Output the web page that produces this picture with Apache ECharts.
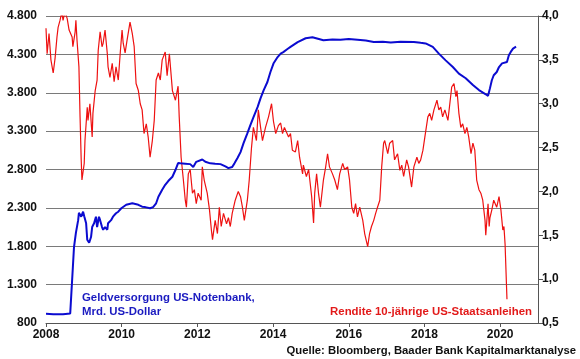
<!DOCTYPE html>
<html>
<head>
<meta charset="utf-8">
<script src="https://cdn.jsdelivr.net/npm/echarts@6/dist/echarts.min.js"></script>
<style>
html,body{margin:0;padding:0;background:#fff;}
#chart{width:580px;height:359px;}
</style>
</head>
<body>
<div id="chart"></div>
<script>
// X-axis tick labels (years)
const yearTicks = [2008, 2010, 2012, 2014, 2016, 2018, 2020];
// Left axis ticks (Mrd. US-Dollar)
const leftTicks = [800, 1300, 1800, 2300, 2800, 3300, 3800, 4300, 4800];
// Right axis ticks (Rendite %)
const rightTicks = [0.5, 1.0, 1.5, 2.0, 2.5, 3.0, 3.5, 4.0];

// Geldversorgung US-Notenbank (Mrd. US-Dollar)
const fedDates = [2008.00,2008.19,2008.45,2008.64,2008.69,2008.71,2008.74,2008.79,2008.85,2008.87,2008.93,2008.98,2009.01,2009.06,2009.09,2009.14,2009.19,2009.22,2009.27,2009.32,2009.35,2009.40,2009.43,2009.48,2009.51,2009.56,2009.62,2009.64,2009.72,2009.77,2009.85,2009.91,2009.99,2010.04,2010.12,2010.17,2010.28,2010.36,2010.44,2010.54,2010.62,2010.75,2010.83,2010.91,2010.97,2011.07,2011.15,2011.23,2011.34,2011.42,2011.49,2011.55,2011.68,2011.81,2011.89,2011.97,2012.02,2012.13,2012.21,2012.34,2012.47,2012.61,2012.74,2012.82,2012.92,2012.98,2013.06,2013.14,2013.22,2013.32,2013.40,2013.48,2013.59,2013.67,2013.75,2013.85,2013.93,2014.01,2014.12,2014.20,2014.27,2014.38,2014.46,2014.65,2014.86,2015.04,2015.33,2015.57,2015.78,2016.00,2016.23,2016.45,2016.66,2016.90,2017.11,2017.37,2017.72,2017.90,2018.03,2018.22,2018.38,2018.56,2018.75,2018.91,2019.09,2019.28,2019.44,2019.62,2019.68,2019.73,2019.78,2019.83,2019.91,2019.97,2020.05,2020.10,2020.18,2020.23,2020.28,2020.34,2020.42];
const fedAssets = [920,915,915,925,930,1530,1790,1975,2140,2235,2185,2250,2190,2100,1885,1845,1920,2050,2100,2185,2050,2185,2140,2050,2015,2050,2015,2100,2140,2185,2230,2250,2295,2315,2340,2350,2360,2350,2340,2315,2310,2295,2310,2360,2445,2535,2600,2650,2706,2793,2884,2880,2875,2870,2833,2900,2923,2930,2900,2880,2875,2870,2840,2818,2833,2880,2949,3027,3143,3270,3378,3480,3612,3730,3830,3940,4070,4180,4265,4310,4330,4370,4397,4460,4510,4524,4483,4495,4492,4500,4490,4480,4462,4465,4455,4465,4462,4450,4443,4397,4310,4222,4135,4049,3989,3900,3835,3780,3760,3857,3963,4028,4070,4135,4183,4160,4200,4288,4332,4375,4400];

// Rendite 10-jährige US-Staatsanleihen (%)
const yieldDates = [2008.00,2008.03,2008.08,2008.13,2008.19,2008.24,2008.29,2008.32,2008.37,2008.42,2008.45,2008.50,2008.56,2008.61,2008.69,2008.71,2008.77,2008.79,2008.82,2008.87,2008.90,2008.93,2008.95,2009.01,2009.03,2009.09,2009.11,2009.16,2009.22,2009.24,2009.30,2009.35,2009.38,2009.43,2009.48,2009.51,2009.56,2009.62,2009.64,2009.69,2009.75,2009.80,2009.85,2009.91,2009.96,2010.01,2010.04,2010.09,2010.14,2010.22,2010.28,2010.33,2010.38,2010.44,2010.49,2010.54,2010.59,2010.65,2010.70,2010.75,2010.81,2010.86,2010.91,2010.97,2011.02,2011.07,2011.15,2011.20,2011.26,2011.34,2011.42,2011.49,2011.52,2011.57,2011.63,2011.68,2011.71,2011.76,2011.81,2011.87,2011.92,2011.97,2012.02,2012.10,2012.13,2012.18,2012.26,2012.32,2012.37,2012.40,2012.47,2012.53,2012.58,2012.63,2012.69,2012.77,2012.82,2012.87,2012.92,2013.00,2013.08,2013.14,2013.19,2013.24,2013.32,2013.37,2013.43,2013.48,2013.56,2013.61,2013.67,2013.72,2013.80,2013.88,2013.96,2014.01,2014.07,2014.14,2014.20,2014.25,2014.30,2014.41,2014.46,2014.51,2014.59,2014.65,2014.70,2014.78,2014.80,2014.88,2014.94,2015.02,2015.07,2015.10,2015.15,2015.20,2015.25,2015.33,2015.39,2015.44,2015.49,2015.57,2015.63,2015.70,2015.76,2015.84,2015.89,2015.97,2016.02,2016.08,2016.13,2016.18,2016.23,2016.29,2016.37,2016.42,2016.50,2016.55,2016.60,2016.66,2016.71,2016.76,2016.82,2016.87,2016.92,2016.95,2017.03,2017.08,2017.16,2017.21,2017.29,2017.35,2017.40,2017.45,2017.53,2017.58,2017.66,2017.72,2017.80,2017.85,2017.90,2017.96,2018.01,2018.09,2018.14,2018.19,2018.25,2018.33,2018.38,2018.43,2018.48,2018.54,2018.62,2018.67,2018.72,2018.78,2018.83,2018.86,2018.91,2018.96,2019.01,2019.07,2019.12,2019.17,2019.23,2019.28,2019.33,2019.38,2019.44,2019.49,2019.54,2019.60,2019.62,2019.68,2019.71,2019.73,2019.78,2019.83,2019.91,2019.97,2020.02,2020.07,2020.10,2020.13,2020.18];
const yields = [3.86,3.57,3.80,3.50,3.35,3.52,3.76,3.87,3.95,4.05,3.95,4.05,3.97,3.84,3.76,3.65,3.82,3.95,3.72,3.42,2.85,2.36,2.13,2.32,2.58,2.96,2.81,3.00,2.62,2.89,3.15,3.27,3.61,3.82,3.65,3.69,3.84,3.57,3.42,3.30,3.46,3.25,3.42,3.27,3.57,3.84,3.69,3.58,3.72,3.93,3.80,3.65,3.23,3.15,3.00,2.93,2.66,2.77,2.62,2.39,2.58,2.81,3.27,3.35,3.27,3.50,3.59,3.32,3.57,3.15,3.04,3.20,2.85,2.39,2.13,1.90,1.82,2.20,2.25,1.98,2.02,1.86,1.98,1.90,2.28,2.13,1.98,1.79,1.56,1.45,1.67,1.52,1.82,1.60,1.75,1.63,1.70,1.60,1.75,1.90,2.00,1.94,1.82,1.67,1.90,2.13,2.50,2.73,2.58,2.93,2.73,2.58,2.73,2.85,3.00,2.80,2.66,2.75,2.78,2.66,2.73,2.62,2.66,2.47,2.45,2.58,2.39,2.20,2.30,2.17,2.25,1.94,1.64,1.98,2.20,1.98,1.82,2.13,2.28,2.43,2.28,2.20,2.13,2.02,2.20,2.32,2.25,2.28,2.13,1.82,1.75,1.86,1.71,1.82,1.67,1.52,1.37,1.52,1.60,1.67,1.75,1.82,1.90,2.28,2.55,2.58,2.43,2.55,2.58,2.36,2.43,2.24,2.30,2.17,2.36,2.28,2.05,2.28,2.39,2.32,2.36,2.47,2.62,2.85,2.89,2.81,2.93,3.04,2.93,2.96,2.85,2.93,2.81,3.00,3.19,3.23,3.08,3.15,2.89,2.73,2.77,2.66,2.73,2.62,2.43,2.55,2.47,2.13,2.02,1.98,1.90,1.67,1.50,1.86,1.60,1.70,1.79,1.90,1.82,1.94,1.79,1.56,1.60,1.40,0.77];

const fedData = fedDates.map((d, i) => [d, fedAssets[i]]);
const yieldData = yieldDates.map((d, i) => [d, yields[i]]);

const FONT = '"Liberation Sans", Arial, sans-serif';
const chart = echarts.init(document.getElementById('chart'), null, {renderer: 'canvas'});
chart.setOption({
  animation: false,
  backgroundColor: '#ffffff',
  grid: {left: 46, right: 42, top: 16, bottom: 36, containLabel: false},
  xAxis: {
    type: 'value', min: 2008, max: 2021, interval: 2,
    axisLine: {show: true, lineStyle: {color: '#555', width: 1}},
    axisTick: {show: true, length: 4, lineStyle: {color: '#555'}, customValues: yearTicks},
    axisLabel: {
      customValues: yearTicks,
      color: '#111', fontFamily: FONT, fontWeight: 'bold', fontSize: 12, margin: 6,
      formatter: v => (yearTicks.indexOf(v) >= 0 ? String(v) : '')
    },
    splitLine: {show: false}
  },
  yAxis: [
    {
      type: 'value', min: leftTicks[0], max: leftTicks[leftTicks.length - 1], interval: 500,
      axisLine: {show: false}, axisTick: {show: false},
      axisLabel: {
        color: '#111', fontFamily: FONT, fontWeight: 'bold', fontSize: 12, margin: 9,
        formatter: v => v >= 1000 ? Math.floor(v / 1000) + '.' + String(v % 1000).padStart(3, '0') : String(v)
      },
      splitLine: {show: true, lineStyle: {color: '#7a7a7a', width: 1}}
    },
    {
      type: 'value', min: rightTicks[0], max: rightTicks[rightTicks.length - 1], interval: 0.5,
      position: 'right',
      axisLine: {show: true, lineStyle: {color: '#555', width: 1}},
      axisTick: {show: true, inside: false, length: 5, lineStyle: {color: '#555'}},
      axisLabel: {
        color: '#111', fontFamily: FONT, fontWeight: 'bold', fontSize: 12, margin: 4,
        formatter: v => v.toFixed(1).replace('.', ',')
      },
      splitLine: {show: false}
    }
  ],
  series: [
    {
      name: 'Rendite', type: 'line', yAxisIndex: 1, data: yieldData,
      showSymbol: false, symbol: 'none', clip: true,
      lineStyle: {color: '#ee1111', width: 1.2}, z: 2
    },
    {
      name: 'Geldversorgung', type: 'line', yAxisIndex: 0, data: fedData,
      showSymbol: false, symbol: 'none', clip: true,
      lineStyle: {color: '#0b0bd0', width: 2}, z: 3
    }
  ],
  graphic: [
    {type: 'text', left: 82, top: 291, style: {text: 'Geldversorgung US-Notenbank,\nMrd. US-Dollar', fill: '#1a1ac0', font: 'bold 11.4px ' + FONT, lineHeight: 14}},
    {type: 'text', right: 48, top: 306, style: {text: 'Rendite 10-jährige US-Staatsanleihen', fill: '#e21a1a', font: 'bold 11.4px ' + FONT}},
    {type: 'text', right: 4, top: 345, style: {text: 'Quelle: Bloomberg, Baader Bank Kapitalmarktanalyse', fill: '#111', font: 'bold 11.3px ' + FONT}}
  ]
});
</script>
</body>
</html>
